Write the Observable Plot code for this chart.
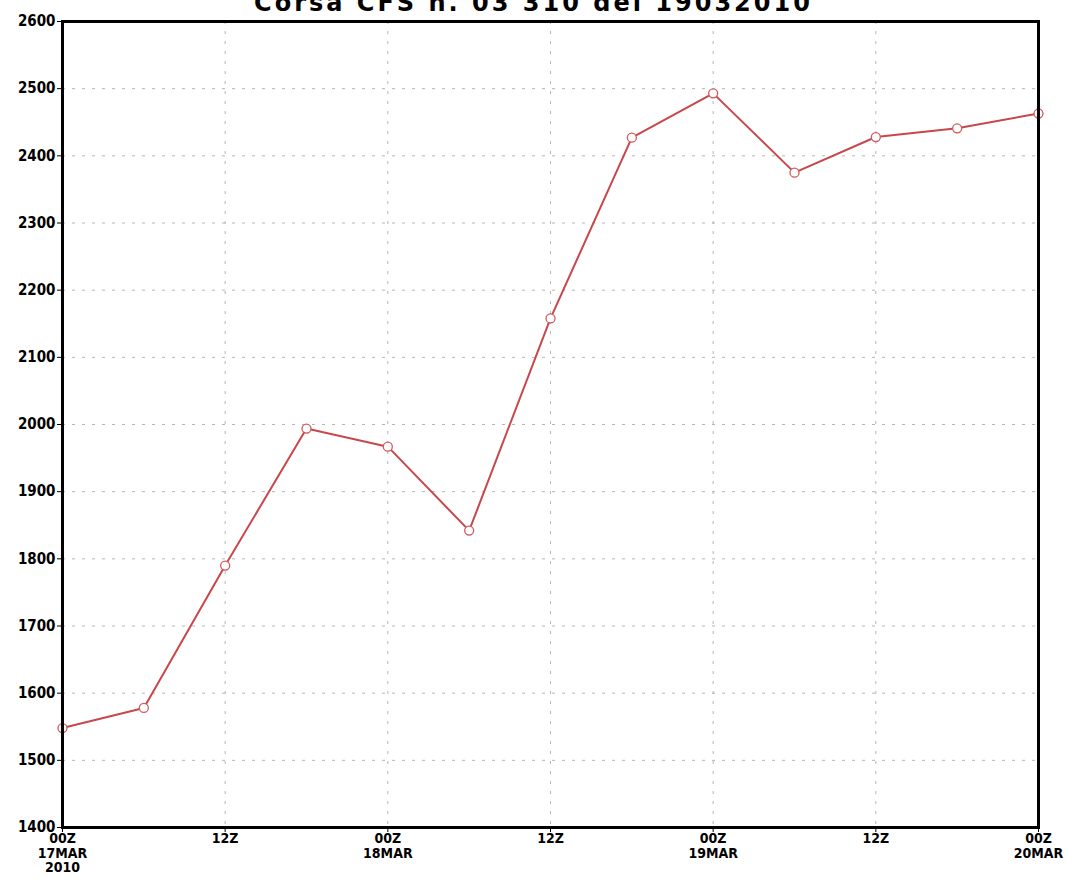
<!DOCTYPE html>
<html>
<head>
<meta charset="utf-8">
<script src="https://cdn.jsdelivr.net/npm/d3@7"></script>
<script src="https://cdn.jsdelivr.net/npm/@observablehq/plot@0.6"></script>
<style>
  html, body { margin: 0; padding: 0; background: #fff; overflow: hidden; }
  #wrap { position: relative; width: 1067px; height: 885px; }
  #title { position: absolute; top: -11px; left: 0; width: 1067px; text-align: center;
    font-family: "DejaVu Sans", sans-serif; font-weight: bold; font-size: 24px; letter-spacing: 3px; color: #000; z-index: 2; }
  svg { font-family: "DejaVu Sans Condensed", "DejaVu Sans", sans-serif; font-weight: bold; }
</style>
</head>
<body>
<div id="wrap"><div id="title">Corsa CFS n. 03 310 del 19032010</div><div id="chart"></div></div>
<script>
const times = ["2010-03-17T00:00Z","2010-03-17T06:00Z","2010-03-17T12:00Z","2010-03-17T18:00Z",
  "2010-03-18T00:00Z","2010-03-18T06:00Z","2010-03-18T12:00Z","2010-03-18T18:00Z",
  "2010-03-19T00:00Z","2010-03-19T06:00Z","2010-03-19T12:00Z","2010-03-19T18:00Z","2010-03-20T00:00Z"];
const values = [1548, 1578, 1790, 1994, 1967, 1842, 2158, 2427, 2493, 2375, 2428, 2441, 2463];
const xTickTimes = ["2010-03-17T00:00Z","2010-03-17T12:00Z","2010-03-18T00:00Z","2010-03-18T12:00Z",
  "2010-03-19T00:00Z","2010-03-19T12:00Z","2010-03-20T00:00Z"];
const xTickLabels = ["00Z\n17MAR\n2010","12Z","00Z\n18MAR","12Z","00Z\n19MAR","12Z","00Z\n20MAR"];
const yTicks = [1400, 1500, 1600, 1700, 1800, 1900, 2000, 2100, 2200, 2300, 2400, 2500, 2600];

const data = times.map((t, i) => ({t: new Date(t), v: values[i]}));
const xt = xTickTimes.map(t => new Date(t));
const labelOf = new Map(xt.map((d, i) => [+d, xTickLabels[i]]));

const chart = Plot.plot({
  width: 1067,
  height: 885,
  marginTop: 21,
  marginLeft: 62,
  marginRight: 29,
  marginBottom: 58,
  style: {fontSize: "15px", color: "#000", background: "#fff"},
  x: {type: "utc", domain: [xt[0], xt[xt.length - 1]], label: null},
  y: {domain: [1400, 2600], label: null},
  marks: [
    Plot.gridX(xt, {stroke: "#b5b5b5", strokeOpacity: 1, strokeDasharray: "3,7", strokeWidth: 1}),
    Plot.gridY(yTicks, {stroke: "#b5b5b5", strokeOpacity: 1, strokeDasharray: "3,7", strokeWidth: 1}),
    Plot.axisX(xt, {tickSize: 5, tickPadding: 0, tickFormat: d => labelOf.get(+d), fontSize: 14, fontWeight: "bold", lineHeight: 1.05, label: null}),
    Plot.axisY(yTicks, {tickSize: 5, tickPadding: 2, tickFormat: d => String(d), fontSize: 15, fontWeight: "bold", label: null}),
    Plot.line(data, {x: "t", y: "v", stroke: "#c8474b", strokeWidth: 2}),
    Plot.dot(data, {x: "t", y: "v", r: 4.5, fill: "#fff", stroke: "#d05a5e", strokeWidth: 1.3}),
    Plot.frame({stroke: "#000", strokeWidth: 3})
  ]
});
document.getElementById("chart").appendChild(chart);
</script>
</body>
</html>
